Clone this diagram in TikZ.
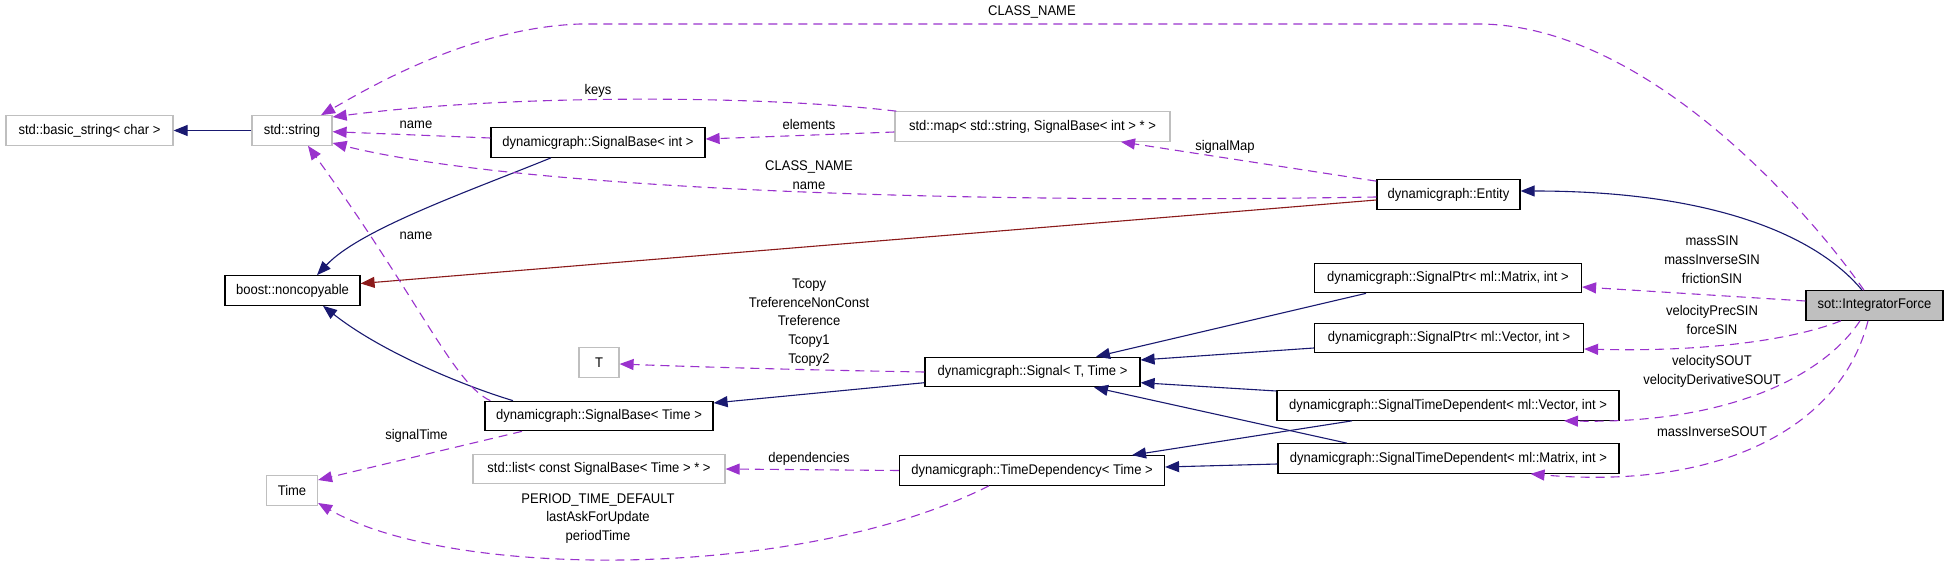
\documentclass[tikz,border=0pt]{standalone}
\usepackage{fontspec}
\setmainfont[FakeStretch=0.93]{Liberation Sans}
\usetikzlibrary{arrows.meta,calc}

\definecolor{inhcol}{HTML}{191970}
\definecolor{privcol}{HTML}{8B1A1A}
\definecolor{usecol}{HTML}{9A32CD}
\definecolor{undoc}{HTML}{BFBFBF}

\begin{document}
\begin{tikzpicture}[x=1pt, y=-1pt,
  cls/.style={draw, line width=1.2pt, minimum height=29.5pt, inner sep=0pt, font=\fontsize{14}{18.75}\selectfont},
  ext/.style={cls, draw=undoc},
  here/.style={cls, fill=undoc},
  lbl/.style={align=center, inner sep=0pt, font=\fontsize{14}{18.75}\selectfont},
  inh/.style={-{Triangle[length=14pt, width=11pt]}, draw=inhcol, line width=1.1pt},
  priv/.style={inh, draw=privcol},
  use/.style={-{Triangle[length=14pt, width=11pt]}, draw=usecol, line width=1.1pt, dash pattern=on 9pt off 6pt}]
\useasboundingbox (0,0) rectangle (1947,572);

\node[ext, minimum width=167pt] (basic) at (89.5,130.5) {std::basic\_string< char >};
\node[ext, minimum width=80pt] (str) at (292,130.5) {std::string};
\node[cls, minimum width=214pt] (sbint) at (598,142.5) {dynamicgraph::SignalBase< int >};
\node[ext, minimum width=275pt] (map) at (1032.5,126.5) {std::map< std::string, SignalBase< int > * >};
\node[cls, minimum width=143pt] (entity) at (1448.5,194.5) {dynamicgraph::Entity};
\node[cls, minimum width=135pt] (noncopy) at (292.5,290.5) {boost::noncopyable};
\node[cls, minimum width=267pt] (ptrmat) at (1448,278) {dynamicgraph::SignalPtr< ml::Matrix, int >};
\node[here, minimum width=137pt] (integ) at (1874.5,305.5) {sot::IntegratorForce};
\node[ext, minimum width=40pt] (T) at (599,362.5) {T};
\node[cls, minimum width=215pt] (signal) at (1032.5,372) {dynamicgraph::Signal< T, Time >};
\node[cls, minimum width=269pt] (ptrvec) at (1449,338) {dynamicgraph::SignalPtr< ml::Vector, int >};
\node[cls, minimum width=228pt] (sbtime) at (599,416) {dynamicgraph::SignalBase< Time >};
\node[cls, minimum width=342pt] (stdvec) at (1448,405.5) {dynamicgraph::SignalTimeDependent< ml::Vector, int >};
\node[cls, minimum width=341pt] (stdmat) at (1448.5,458.5) {dynamicgraph::SignalTimeDependent< ml::Matrix, int >};
\node[ext, minimum width=252pt] (list) at (599,469) {std::list< const SignalBase< Time > * >};
\node[cls, minimum width=265pt] (td) at (1032,470.5) {dynamicgraph::TimeDependency< Time >};
\node[ext, minimum width=51pt] (time) at (292,490.5) {Time};

\coordinate (topR) at (1478,24);
\coordinate (topL) at (580,24);

\draw[inh] (str.west) -- (basic.east);
\draw[inh] ($(sbint.south)+(-47,0)$) .. controls +(-81,33) and +(43,-46) .. ($(noncopy.north)+(24.5,0)$);
\draw[inh] ($(sbtime.north)+(-86,0)$) .. controls +(-53,-16) and +(57,45) .. ($(noncopy.south)+(30.5,0)$);
\draw[inh] ($(integ.north)+(-12.5,0)$) .. controls +(-42,-51) and +(200,0) .. ($(entity.east)+(0,-3.5)$);
\draw[inh] ($(ptrmat.south)+(-82,0)$) -- ($(signal.north)+(63.5,0)$);
\draw[inh] ($(ptrvec.west)+(0,10)$) -- ($(signal.east)+(0,-12)$);
\draw[inh] ($(stdvec.west)+(0,-14.5)$) -- ($(signal.east)+(0,10.7)$);
\draw[inh] ($(stdmat.north)+(-101.5,0)$) -- ($(signal.south)+(61.5,0)$);
\draw[inh] ($(signal.west)+(0,10.7)$) -- ($(sbtime.east)+(0,-13)$);
\draw[inh] ($(stdvec.south)+(-96,0)$) -- ($(td.north)+(100,0)$);
\draw[inh] ($(stdmat.west)+(0,5.5)$) -- ($(td.east)+(0,-3.5)$);
\draw[priv] ($(entity.west)+(0,5.5)$) -- ($(noncopy.east)+(0,-7)$);

\draw[use] ($(integ.north)+(-10.5,0)$) .. controls +(-64,-91) and +(162,0) .. (topR) -- (topL)
  .. controls +(-110,4) and +(49,-28) .. ($(str.north)+(29,0)$);
\node[lbl] (lclass) at (1032,12) {CLASS\_NAME};
\draw[use] ($(map.north west)+(2,0)$) .. controls +(-145,-17) and +(168,-22) .. ($(str.east)+(0,-13.5)$);
\node[lbl] (lkeys) at (598,91) {keys};
\draw[use] ($(sbint.west)+(0,-4.5)$) -- ($(str.east)+(0,1.2)$);
\node[lbl] (lname) at (416,125) {name};
\draw[use] ($(entity.west)+(0,2.5)$) .. controls +(-477,8) and +(168,42) .. ($(str.east)+(0,12.5)$);
\node[lbl] (lentity) at (809,175.5) {CLASS\_NAME\\name};
\draw[use] ($(map.west)+(0,5.5)$) -- ($(sbint.east)+(0,-3.5)$);
\node[lbl] (lelem) at (809,124) {elements};
\draw[use] ($(entity.north west)+(0,2)$) -- ($(map.south)+(88.5,0)$);
\node[lbl] (lmap) at (1225,147) {signalMap};
\draw[use] ($(sbtime.north west)+(6,0)$) .. controls +(-36,-16) and +(112,155) .. ($(str.south)+(16,0)$);
\node[lbl] (lname2) at (416,236) {name};
\draw[use] (signal.west) .. controls +(-120,-2) and +(80,3) .. ($(T.east)+(0,1.5)$);
\node[lbl] (lT) at (809,322.5) {Tcopy\\TreferenceNonConst\\Treference\\Tcopy1\\Tcopy2};
\draw[use] (td.west) -- (list.east);
\node[lbl] (ldep) at (809,459) {dependencies};
\draw[use] ($(td.south)+(-43,0)$) .. controls +(-189,95) and +(133,77) .. ($(time.east)+(0,12.5)$);
\node[lbl] (lperiod) at (598,518.4) {PERIOD\_TIME\_DEFAULT\\lastAskForUpdate\\periodTime};
\draw[use] ($(sbtime.south)+(-77,0)$) -- ($(time.east)+(0,-10.5)$);
\node[lbl] (lsig) at (416.5,435.7) {signalTime};
\draw[use] ($(integ.west)+(0,-4.5)$) -- ($(ptrmat.east)+(0,9)$);
\node[lbl] (lmass) at (1712,259.7) {massSIN\\massInverseSIN\\frictionSIN};
\draw[use] ($(integ.south)+(-33.5,0)$) .. controls +(-51,20) and +(117,3) .. ($(ptrvec.east)+(0,11)$);
\node[lbl] (lvel) at (1712,319.7) {velocityPrecSIN\\forceSIN};
\draw[use] ($(integ.south)+(-14.5,0)$) .. controls +(-40,60) and +(156,3) .. ($(stdvec.south)+(116,0)$);
\node[lbl] (lvout) at (1712,371.4) {velocitySOUT\\velocityDerivativeSOUT};
\draw[use] ($(integ.south)+(-6.5,0)$) .. controls +(-28,110) and +(185,16) .. ($(stdmat.south)+(82,0)$);
\node[lbl] (lmout) at (1712,431.7) {massInverseSOUT};
\end{tikzpicture}
\end{document}
